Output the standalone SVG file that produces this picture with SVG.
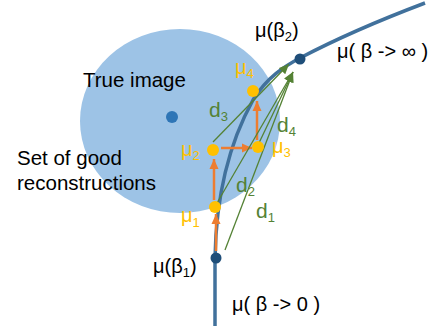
<svg xmlns="http://www.w3.org/2000/svg" width="443" height="326" viewBox="0 0 443 326">
<style>
text{font-family:"Liberation Sans",Arial,sans-serif}
.blk{fill:#000;font-size:20px}
.lbl{font-size:20.5px;fill:#000}
.yel{fill:#FFC000;font-size:20px}
.grn{fill:#548235;font-size:21px}
.sub{font-size:13px}
.or{stroke:#ED7D31;stroke-width:2.5;fill:none}
.gr{stroke:#548235;stroke-width:1.3;fill:none}
.ydot{fill:#FFC000}
.ndot{fill:#1F4E79}
</style>
<defs>
<marker id="ao" markerUnits="userSpaceOnUse" markerWidth="10" markerHeight="10" viewBox="0 0 10 10" refX="10" refY="5" orient="auto">
<path d="M0,0.5 L10,5 L0,9.5 Z" fill="#ED7D31"/>
</marker>
<marker id="ag" markerUnits="userSpaceOnUse" markerWidth="10" markerHeight="9" viewBox="0 0 10 9" refX="10" refY="4.5" orient="auto">
<path d="M0,0 L10,4.5 L0,9 Z" fill="#548235"/>
</marker>
</defs>
<g id="good-set">
<ellipse cx="180" cy="121" rx="100" ry="92" fill="#9DC3E6"/>
</g>
<g id="true-image">
<circle cx="172" cy="117" r="6" fill="#2E75B6"/>
<text class="lbl" x="83" y="87">True image</text>
</g>
<text class="lbl" x="17" y="165">Set of good</text>
<text class="lbl" x="17" y="190">reconstructions</text>
<g id="path-curve">
<path d="M215,326 L215,258 C216,200 228,145 253,100 C267,77 285,66 300,58 C340,37 380,20 425,3" fill="none" stroke="#41719C" stroke-width="3.5"/>
</g>
<g id="connectors">
<line class="or" x1="216" y1="251" x2="216" y2="214" marker-end="url(#ao)"/>
<line class="or" x1="214" y1="200" x2="214" y2="159" marker-end="url(#ao)"/>
<line class="or" x1="221" y1="148" x2="252" y2="148" marker-end="url(#ao)"/>
<line class="or" x1="257" y1="140" x2="257" y2="101" marker-end="url(#ao)"/>
<line class="gr" x1="213" y1="142" x2="289" y2="64" marker-end="url(#ag)"/>
<line class="gr" x1="258" y1="145" x2="293" y2="72" marker-end="url(#ag)"/>
<line class="gr" x1="217" y1="203" x2="293" y2="72" marker-end="url(#ag)"/>
<line class="gr" x1="225" y1="250" x2="293" y2="72" marker-end="url(#ag)"/>
</g>
<g id="beta1">
<circle class="ndot" cx="216" cy="258" r="5.5"/>
<text class="blk" x="153" y="273">μ(β<tspan class="sub" dy="4">1</tspan><tspan dy="-4">)</tspan></text>
</g>
<g id="beta2">
<circle class="ndot" cx="300" cy="59" r="5.5"/>
<text class="blk" x="255" y="37">μ(β<tspan class="sub" dy="4">2</tspan><tspan dy="-4">)</tspan></text>
</g>
<g id="beta-inf">
<text class="blk" x="337" y="58">μ( β -&gt; ∞ )</text>
</g>
<g id="beta-0">
<text class="blk" x="232" y="311">μ( β -&gt; 0 )</text>
</g>
<g id="mu1">
<circle class="ydot" cx="215" cy="207" r="6"/>
<text class="yel" x="181" y="222">μ<tspan class="sub" dy="5">1</tspan></text>
</g>
<g id="mu2">
<circle class="ydot" cx="213" cy="150" r="6"/>
<text class="yel" x="181" y="156">μ<tspan class="sub" dy="4">2</tspan></text>
</g>
<g id="mu3">
<circle class="ydot" cx="258" cy="147" r="6"/>
<text class="yel" x="272" y="153">μ<tspan class="sub" dy="4">3</tspan></text>
</g>
<g id="mu4">
<circle class="ydot" cx="253" cy="91" r="6"/>
<text class="yel" x="235" y="74">μ<tspan class="sub" dy="4">4</tspan></text>
</g>
<g id="labels-d">
<text class="grn" x="209" y="117">d<tspan class="sub" dy="4">3</tspan></text>
<text class="grn" x="277" y="132">d<tspan class="sub" dy="4">4</tspan></text>
<text class="grn" x="236" y="192">d<tspan class="sub" dy="4">2</tspan></text>
<text class="grn" x="256" y="218">d<tspan class="sub" dy="4">1</tspan></text>
</g>
</svg>
